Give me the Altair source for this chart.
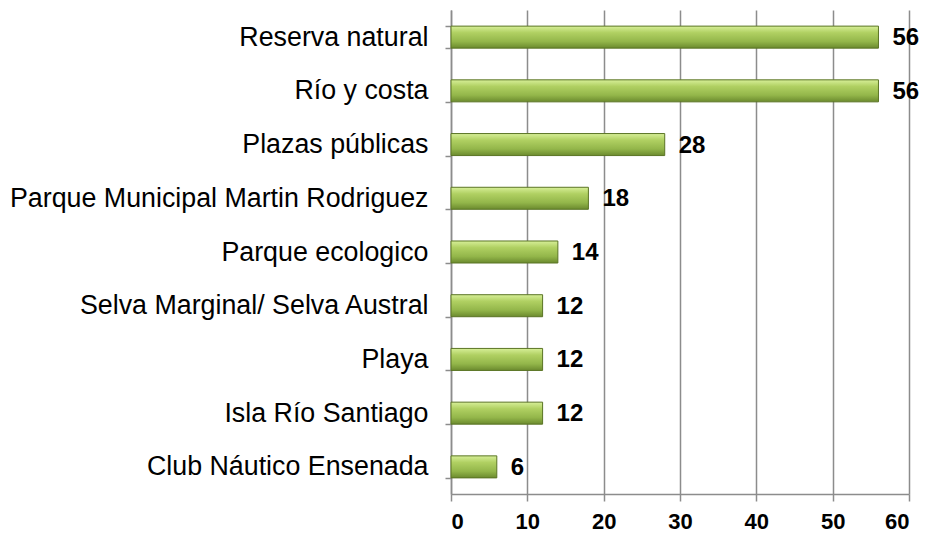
import altair as alt
import pandas as pd

categories = ["Reserva natural", "Río y costa", "Plazas públicas",
              "Parque Municipal Martin Rodriguez", "Parque ecologico",
              "Selva Marginal/ Selva Austral", "Playa", "Isla Río Santiago",
              "Club Náutico Ensenada"]
values = [56, 56, 28, 18, 14, 12, 12, 12, 6]
x_ticks = [0, 10, 20, 30, 40, 50, 60]

df = pd.DataFrame({"cat": categories, "val": values})

grad = alt.Gradient(
    gradient="linear", x1=0, x2=0, y1=0, y2=1,
    stops=[alt.GradientStop(color="#d7ef98", offset=0),
           alt.GradientStop(color="#b0d062", offset=0.3),
           alt.GradientStop(color="#93b64a", offset=0.7),
           alt.GradientStop(color="#6b8a2e", offset=1)])

y_enc = alt.Y("cat:N", sort=categories, title=None,
              scale=alt.Scale(paddingInner=0.59, paddingOuter=0.3),
              axis=alt.Axis(tickBand="extent", tickSize=6, tickColor="#8c8c8c",
                            domainColor="#8c8c8c", domainWidth=1.5, tickWidth=1.5,
                            labelFont="Liberation Sans", labelFontSize=26.8,
                            labelColor="#000000", labelPadding=17, grid=False,
                            labelLimit=600))
x_enc = alt.X("val:Q", title=None,
              scale=alt.Scale(domain=[0, 60], nice=False),
              axis=alt.Axis(values=x_ticks, tickSize=7, tickColor="#8c8c8c",
                            tickWidth=1.5, domainColor="#8c8c8c", domainWidth=1.5,
                            gridColor="#8c8c8c", gridWidth=1.5, grid=True,
                            labelFont="Liberation Sans", labelFontSize=22,
                            labelFontWeight="bold", labelColor="#000000",
                            labelPadding=10))

bars = alt.Chart(df).mark_bar(fill=grad, stroke="#5a7424", strokeWidth=1).encode(
    x=x_enc, y=y_enc)

text = alt.Chart(df).mark_text(align="left", baseline="middle", dx=14, dy=1,
                               font="Liberation Sans", fontSize=24,
                               fontWeight="bold", color="#000000").encode(
    x="val:Q", y=alt.Y("cat:N", sort=categories), text="val:Q")

chart = (bars + text).properties(
    width=458, height=484,
    autosize=alt.AutoSizeParams(type="none"),
    padding={"left": 443, "top": 2, "right": 11, "bottom": 40},
).configure_view(stroke=None)

chart.save("out.html", embed_options={"renderer": "svg", "actions": False})
